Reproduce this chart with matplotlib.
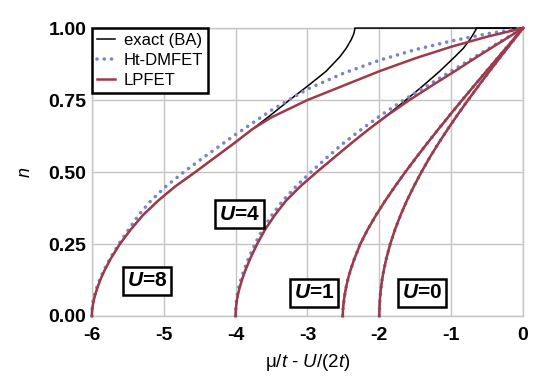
import matplotlib
matplotlib.use("Agg")
import matplotlib.pyplot as plt

plt.rcParams["font.family"] = ["Liberation Sans", "DejaVu Sans"]
plt.rcParams["mathtext.fontset"] = "custom"
plt.rcParams["mathtext.rm"] = "Liberation Sans"
plt.rcParams["mathtext.it"] = "Liberation Sans:italic"
plt.rcParams["mathtext.bf"] = "Liberation Sans:bold"
plt.rcParams["mathtext.bfit"] = "Liberation Sans:italic:bold"

# ---- data (x = mu/t - U/(2t), n = density) ----
# U = 0 (all three methods on top of each other)
n_u0 = [0, 0.01, 0.02, 0.04, 0.06, 0.08, 0.1, 0.13, 0.16, 0.2, 0.25, 0.3, 0.35, 0.4, 0.45,
        0.5, 0.55, 0.6, 0.65, 0.7, 0.75, 0.8, 0.85, 0.9, 0.95, 1.0]
x_u0 = [-2.0, -2.0, -1.999, -1.996, -1.991, -1.984, -1.975, -1.959, -1.937, -1.902, -1.848,
        -1.782, -1.705, -1.618, -1.52, -1.414, -1.30, -1.176, -1.045, -0.908, -0.765, -0.618,
        -0.467, -0.313, -0.157, 0.0]

# U = 1 (all three methods on top of each other)
n_u1 = [0, 0.01, 0.02, 0.04, 0.06, 0.08, 0.1, 0.13, 0.16, 0.2, 0.25, 0.3, 0.35, 0.4, 0.45,
        0.5, 0.55, 0.6, 0.65, 0.7, 0.75, 0.8, 0.85, 0.9, 0.95, 1.0]
x_u1 = [-2.51, -2.508, -2.506, -2.499, -2.49, -2.477, -2.462, -2.435, -2.40, -2.345, -2.265,
        -2.163, -2.046, -1.919, -1.782, -1.638, -1.488, -1.333, -1.174, -1.012, -0.847, -0.68,
        -0.511, -0.341, -0.17, 0.0]

# U = 4
n_u4_exact = [0, 0.01, 0.02, 0.04, 0.06, 0.08, 0.1, 0.13, 0.16, 0.2, 0.25, 0.3, 0.35, 0.4,
              0.45, 0.5, 0.55, 0.6, 0.65, 0.7, 0.75, 0.8, 0.85, 0.9, 0.93, 0.96, 0.98, 0.995,
              1.0, 1.0]
x_u4_exact = [-4.0, -3.999, -3.997, -3.99, -3.978, -3.962, -3.942, -3.905, -3.862, -3.795,
              -3.70, -3.59, -3.455, -3.30, -3.10, -2.87, -2.63, -2.39, -2.14, -1.88, -1.63,
              -1.39, -1.16, -0.95, -0.83, -0.74, -0.69, -0.655, -0.65, 0.0]
n_u4_lpfet = [0, 0.01, 0.02, 0.04, 0.06, 0.08, 0.1, 0.13, 0.16, 0.2, 0.25, 0.3, 0.35, 0.4,
              0.45, 0.5, 0.55, 0.6, 0.65, 0.7, 0.75, 0.8, 0.85, 0.9, 0.95, 1.0]
x_u4_lpfet = [-4.0, -3.999, -3.997, -3.99, -3.978, -3.962, -3.942, -3.905, -3.862, -3.795,
              -3.70, -3.59, -3.455, -3.30, -3.10, -2.87, -2.63, -2.39, -2.14, -1.87, -1.58,
              -1.27, -0.95, -0.64, -0.32, 0.0]
n_u4_dmfet = [0, 0.01, 0.02, 0.04, 0.06, 0.08, 0.1, 0.13, 0.16, 0.2, 0.25, 0.3, 0.35, 0.4,
              0.45, 0.5, 0.55, 0.6, 0.65, 0.7, 0.75, 0.8, 0.85, 0.9, 0.95, 1.0]
x_u4_dmfet = [-4.0, -4.0, -3.999, -3.994, -3.985, -3.972, -3.955, -3.922, -3.882, -3.82,
              -3.73, -3.625, -3.495, -3.345, -3.16, -2.95, -2.73, -2.50, -2.24, -1.96, -1.66,
              -1.33, -1.0, -0.67, -0.335, 0.0]

# U = 8
n_u8_exact = [0, 0.01, 0.02, 0.04, 0.06, 0.08, 0.1, 0.13, 0.16, 0.2, 0.25, 0.3, 0.35, 0.4,
              0.45, 0.5, 0.55, 0.6, 0.65, 0.7, 0.75, 0.8, 0.85, 0.9, 0.93, 0.96, 0.98, 0.995,
              1.0, 1.0]
x_u8_exact = [-6.0, -5.999, -5.996, -5.985, -5.968, -5.946, -5.92, -5.875, -5.82, -5.735,
              -5.61, -5.46, -5.29, -5.08, -4.84, -4.56, -4.29, -4.02, -3.76, -3.50, -3.25,
              -2.99, -2.74, -2.55, -2.46, -2.39, -2.355, -2.342, -2.34, 0.0]
n_u8_lpfet = [0, 0.01, 0.02, 0.04, 0.06, 0.08, 0.1, 0.13, 0.16, 0.2, 0.25, 0.3, 0.35, 0.4,
              0.45, 0.5, 0.55, 0.6, 0.65, 0.69, 0.75, 0.80, 0.85, 0.895, 0.935, 0.97, 1.0]
x_u8_lpfet = [-6.0, -5.999, -5.996, -5.985, -5.968, -5.946, -5.92, -5.875, -5.82, -5.735,
              -5.61, -5.46, -5.29, -5.08, -4.84, -4.56, -4.29, -4.02, -3.76, -3.5, -3.0,
              -2.5, -2.0, -1.5, -1.0, -0.5, 0.0]
n_u8_dmfet = [0, 0.01, 0.02, 0.04, 0.06, 0.08, 0.1, 0.13, 0.16, 0.2, 0.25, 0.3, 0.35, 0.4,
              0.45, 0.5, 0.55, 0.63, 0.715, 0.788, 0.843, 0.888, 0.925, 0.955, 0.98, 1.0]
x_u8_dmfet = [-6.0, -6.0, -5.998, -5.99, -5.975, -5.955, -5.93, -5.885, -5.83, -5.745,
              -5.625, -5.49, -5.35, -5.18, -4.97, -4.72, -4.45, -4.0, -3.5, -3.0, -2.5, -2.0,
              -1.5, -1.0, -0.5, 0.0]

labels_u = ["U=8", "U=4", "U=1", "U=0"]
label_x = [-5.235, -3.95, -2.91, -1.41]
label_n = [0.122, 0.354, 0.08, 0.08]

x_ticks = [-6, -5, -4, -3, -2, -1, 0]
y_ticks = [0.0, 0.25, 0.5, 0.75, 1.0]

c_exact = "black"
c_dmfet = "#7c84c8"
c_lpfet = "#a03a48"

fig = plt.figure(figsize=(5.5, 3.87), dpi=100)
ax = fig.add_axes([0.167, 0.1835, 0.784, 0.744])

exact_sets = [(x_u0, n_u0), (x_u1, n_u1), (x_u4_exact, n_u4_exact), (x_u8_exact, n_u8_exact)]
dmfet_sets = [(x_u0, n_u0), (x_u1, n_u1), (x_u4_dmfet, n_u4_dmfet), (x_u8_dmfet, n_u8_dmfet)]
lpfet_sets = [(x_u0, n_u0), (x_u1, n_u1), (x_u4_lpfet, n_u4_lpfet), (x_u8_lpfet, n_u8_lpfet)]

for i, (xs, ns) in enumerate(exact_sets):
    ax.plot(xs, ns, color=c_exact, lw=1.1, clip_on=False, zorder=3,
            label="exact (BA)" if i == 0 else None)
for i, (xs, ns) in enumerate(dmfet_sets):
    ax.plot(xs, ns, color=c_dmfet, lw=2.6, linestyle=(0, (0.01, 2.0)),
            dash_capstyle="round", clip_on=False, zorder=4,
            label="Ht-DMFET" if i == 0 else None)
for i, (xs, ns) in enumerate(lpfet_sets):
    ax.plot(xs, ns, color=c_lpfet, lw=1.8, clip_on=False, zorder=5,
            label="LPFET" if i == 0 else None)

for lab, lx, ly in zip(labels_u, label_x, label_n):
    u, val = lab.split("=")
    ax.text(lx, ly, r"$\mathbfit{" + u + "}$=" + val, ha="center", va="center",
            fontsize=15, fontweight="bold", zorder=6,
            bbox=dict(boxstyle="square,pad=0.2", facecolor="white",
                      edgecolor="black", linewidth=1.8))

ax.set_xlim(-6, 0)
ax.set_ylim(0, 1)
ax.set_xticks(x_ticks)
ax.set_xticklabels([str(t) for t in x_ticks])
ax.set_yticks(y_ticks)
ax.set_yticklabels(["%.2f" % t for t in y_ticks])
ax.tick_params(length=0, labelsize=14)
ax.tick_params(axis="x", pad=8)
ax.tick_params(axis="y", pad=4)
for lbl in ax.get_xticklabels() + ax.get_yticklabels():
    lbl.set_fontweight("bold")
ax.grid(True, color="#c4c4c4", lw=1.0)
ax.set_axisbelow(True)
for sp in ax.spines.values():
    sp.set_color("#c4c4c4")
    sp.set_linewidth(1.0)

ax.set_xlabel("μ/$t$ - $U$/(2$t$)", fontsize=13.5, labelpad=6)
ax.set_ylabel("$n$", fontsize=13, labelpad=10)

leg = ax.legend(loc="upper left", bbox_to_anchor=(0, 1), borderaxespad=0,
                fontsize=12, fancybox=False, framealpha=1, edgecolor="black",
                handlelength=1.1, handletextpad=0.5, labelspacing=0.3,
                borderpad=0.3)
leg.get_frame().set_linewidth(1.8)
leg.set_zorder(10)

fig.savefig("out.png", dpi=100)
